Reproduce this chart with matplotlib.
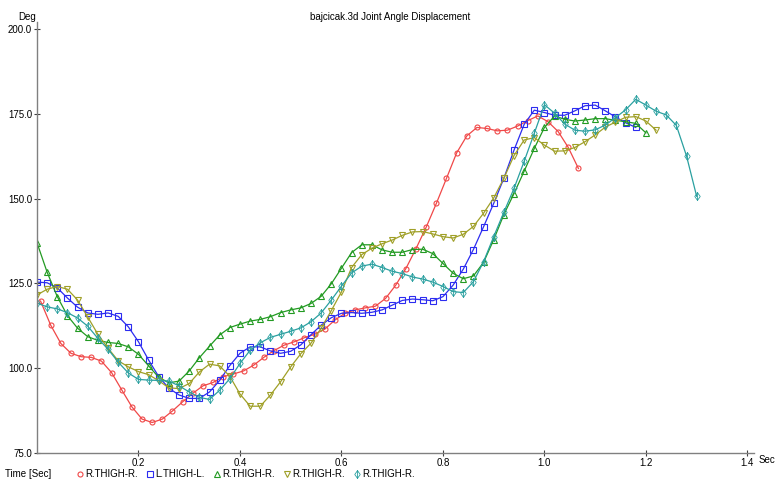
import numpy as np
import matplotlib
matplotlib.use('Agg')
import matplotlib.pyplot as plt
from matplotlib.path import Path
from matplotlib.lines import Line2D

plt.rcParams['font.family'] = ['Liberation Sans', 'DejaVu Sans']
plt.rcParams['font.size'] = 7

# sampling interval of the motion capture frames (sec)
FRAME_DT = 0.02

r_thigh_1 = [119.8, 112.7, 107.3, 104.4, 103.4, 103.2, 102.1, 98.7, 93.6, 88.6,
             85.0, 84.0, 85.0, 87.4, 90.1, 92.6, 94.8, 95.8, 97.5, 98.3,
             99.2, 100.9, 103.2, 105.2, 106.8, 107.8, 109.0, 110.0, 111.5, 114.2,
             116.2, 117.2, 117.8, 118.3, 120.6, 124.5, 129.4, 135.3, 141.6, 148.6,
             156.0, 163.5, 168.5, 171.0, 170.7, 170.0, 170.2, 171.4, 173.0, 174.4,
             172.7, 169.8, 165.1, 158.9]
l_thigh = [125.4, 125.2, 123.7, 120.7, 118.0, 116.3, 115.9, 116.3, 115.3, 112.2,
           107.8, 102.4, 97.5, 94.1, 92.1, 91.1, 91.1, 93.0, 96.4, 100.8,
           104.4, 106.3, 106.3, 105.1, 104.4, 105.0, 106.9, 109.9, 112.7, 114.9,
           116.2, 116.4, 116.2, 116.5, 117.2, 118.6, 120.0, 120.4, 120.2, 119.9,
           121.1, 124.5, 129.2, 135.0, 141.7, 148.6, 156.0, 164.3, 171.9, 176.1,
           175.4, 174.6, 174.6, 175.9, 177.4, 177.6, 175.9, 174.1, 172.4, 171.0]
r_thigh_2 = [137.0, 128.3, 121.1, 115.5, 111.8, 109.3, 108.2, 107.6, 107.3, 106.3,
             104.1, 100.7, 97.3, 95.7, 96.2, 99.2, 103.1, 106.5, 109.8, 112.0,
             113.0, 113.9, 114.4, 115.2, 116.4, 117.2, 117.8, 119.1, 121.2, 124.9,
             129.5, 134.1, 136.4, 136.4, 134.9, 134.2, 134.2, 135.0, 135.1, 133.8,
             130.9, 128.0, 126.4, 127.2, 131.2, 137.9, 145.3, 151.5, 158.1, 164.8,
             171.0, 174.4, 173.4, 172.9, 173.2, 173.6, 173.6, 173.1, 172.7, 172.2,
             169.4]
r_thigh_3 = [121.6, 123.3, 124.1, 123.3, 120.1, 115.1, 110.0, 105.9, 102.2, 100.4,
             99.0, 98.1, 96.3, 94.2, 94.0, 95.5, 98.9, 101.2, 100.7, 97.6,
             92.4, 88.8, 88.8, 92.1, 96.0, 100.4, 104.3, 107.4, 111.8, 117.0,
             122.5, 129.7, 133.5, 135.4, 136.7, 137.8, 139.2, 140.2, 140.3, 139.6,
             138.8, 138.4, 139.5, 141.8, 145.7, 150.2, 156.0, 162.7, 167.3, 168.0,
             165.8, 164.0, 164.1, 165.1, 166.8, 168.8, 171.1, 172.6, 174.0, 174.2,
             172.9, 170.2]
r_thigh_4 = [119.2, 118.1, 117.5, 116.4, 114.8, 112.4, 108.8, 105.6, 101.8, 98.6,
             96.7, 96.5, 96.4, 96.2, 94.8, 93.0, 91.4, 90.8, 93.5, 96.9,
             101.4, 105.3, 107.5, 109.1, 110.0, 110.9, 111.9, 113.7, 116.3, 120.1,
             124.2, 128.1, 130.1, 130.7, 129.7, 128.6, 127.9, 126.9, 126.3, 125.4,
             124.1, 122.6, 122.3, 125.5, 131.4, 138.8, 146.0, 153.0, 161.0, 169.3,
             177.7, 175.2, 172.0, 170.2, 169.9, 170.3, 171.7, 173.9, 176.2, 179.3,
             177.6, 175.8, 174.7, 171.6, 162.6, 150.7]

# first frame time of each trace (sec)
t_start = [0.007, 0.0, 0.0, 0.0, 0.0]
labels = ['R.THIGH-R.', 'L.THIGH-L.', 'R.THIGH-R.', 'R.THIGH-R.', 'R.THIGH-R.']
colors = ['#f04848', '#2c2cf0', '#229a22', '#a0a028', '#2aa0a0']

y_ticks = [75.0, 100.0, 125.0, 150.0, 175.0, 200.0]
x_ticks = [0.2, 0.4, 0.6, 0.8, 1.0, 1.2, 1.4]

# thin diamond with a vertical stroke through it
diamond_bar = Path([(0, 1), (0.7, 0), (0, -1), (-0.7, 0), (0, 1), (0, 1), (0, -1)],
                   [Path.MOVETO, Path.LINETO, Path.LINETO, Path.LINETO, Path.CLOSEPOLY,
                    Path.MOVETO, Path.LINETO])
markers = ['o', 's', '^', 'v', diamond_bar]
sizes = [3.6, 4.2, 4.4, 4.4, 5.6]
edge_w = [0.8, 0.8, 0.8, 0.8, 0.6]

fig = plt.figure(figsize=(7.76, 4.83), dpi=100)
ax = fig.add_axes([37 / 776, 30 / 483, 717 / 776, 431 / 483])

series = [r_thigh_1, l_thigh, r_thigh_2, r_thigh_3, r_thigh_4]
handles = []
for vals, t0, col, mk, ms, mw in zip(series, t_start, colors, markers, sizes, edge_w):
    t = t0 + FRAME_DT * np.arange(len(vals))
    ax.plot(t, vals, color=col, lw=0.9, marker=mk, ms=ms, mfc='none',
            mec=col, mew=mw)
    handles.append(Line2D([], [], ls='none', marker=mk, ms=ms, mfc='none',
                          mec=col, mew=mw))

ax.set_xlim(0, 1.413)
ax.set_ylim(75, 202.1)
ax.set_xticks(x_ticks)
ax.set_xticklabels([f'{v:.1f}' for v in x_ticks])
ax.set_yticks(y_ticks)
ax.set_yticklabels([f'{v:.1f}' for v in y_ticks])
ax.tick_params(direction='inout', length=5, width=0.8, color='#404040', pad=1,
               labelsize=7)
for side in ['top', 'right']:
    ax.spines[side].set_visible(False)
for side in ['left', 'bottom']:
    ax.spines[side].set_color('#808080')
    ax.spines[side].set_linewidth(1.0)

fig.text(27 / 776, 1 - 17 / 483, 'Deg', ha='center', va='center', fontsize=7)
fig.text(390 / 776, 1 - 17 / 483, 'bajcicak.3d Joint Angle Displacement',
         ha='center', va='center', fontsize=7)
fig.text(759 / 776, 1 - 460 / 483, 'Sec', ha='left', va='center', fontsize=7)
fig.text(5 / 776, 1 - 474 / 483, 'Time [Sec]', ha='left', va='center', fontsize=7)

fig.legend(handles, labels, ncol=5, loc='center left',
           bbox_to_anchor=(77 / 776, 1 - 474 / 483), frameon=False,
           handlelength=0.6, handletextpad=0.2, columnspacing=1.0,
           borderpad=0, borderaxespad=0, fontsize=7)

fig.savefig('out.png', dpi=100)
